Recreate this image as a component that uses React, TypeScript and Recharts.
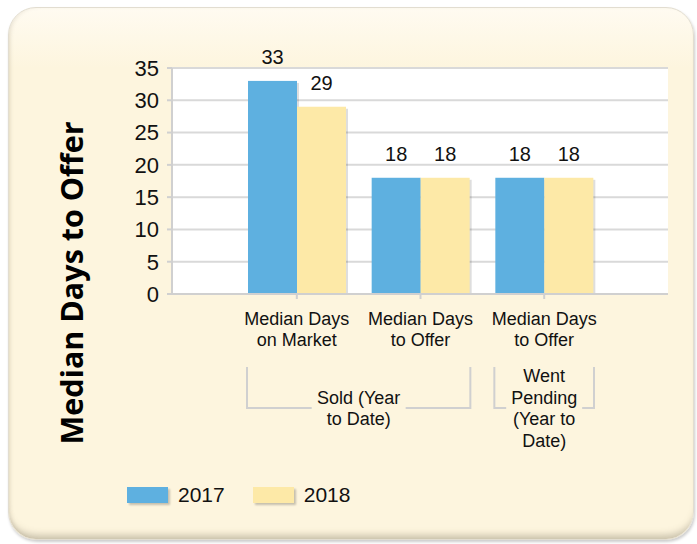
import React from "react";
import { BarChart, Bar, XAxis, YAxis, CartesianGrid, LabelList } from "recharts";

const categoryKeys = ["dom-sold", "dto-sold", "dto-pending"];
const categoryLines = [
  ["Median Days", "on Market"],
  ["Median Days", "to Offer"],
  ["Median Days", "to Offer"],
];
const values2017 = [33, 18, 18];
const values2018 = [29, 18, 18];
const seriesNames = ["2017", "2018"];
const yTicks = [0, 5, 10, 15, 20, 25, 30, 35];
const groupLabels = [
  { lines: ["Sold (Year", "to Date)"], from: 0, to: 1 },
  { lines: ["Went", "Pending", "(Year to", "Date)"], from: 2, to: 2 },
];
const yAxisTitle = "Median Days to Offer";

// styling
const COLORS = ["#5eb0e0", "#fde9a7"];
const FONT = "'Liberation Sans', Arial, sans-serif";
const GRID = "#d9d9d9";
const AXIS = "#d0d0d0";
const BAR_GAP_PX = 13;
const GROUP_GAP_HALF = [47, 38];

const data = categoryKeys.map((k, i) => ({
  key: k,
  idx: i,
  v2017: values2017[i],
  v2018: values2018[i],
}));

const ShadowBar = (props: any) => {
  const { x, y, width, height, fill } = props;
  if (!height || height <= 0) return null;
  return (
    <g>
      <rect x={x + 2} y={y + 2} width={width} height={Math.max(0, height - 2)} fill="rgba(0,0,0,0.13)" />
      <rect x={x} y={y} width={width} height={height} fill={fill} />
    </g>
  );
};

const CategoryTick = (props: any) => {
  const { x, y, payload } = props;
  const i = payload.index;
  const half = payload.offset || 0;
  const lines = categoryLines[i] || [];
  const elems: any[] = [];
  lines.forEach((ln, j) => {
    elems.push(
      <text key={"c" + j} x={x} y={y + 26 + j * 21} textAnchor="middle" fontSize={18} fontFamily={FONT} fill="#111">
        {ln}
      </text>
    );
  });
  groupLabels.forEach((g, gi) => {
    if (g.from !== i) return;
    const left = x - half + BAR_GAP_PX - 1;
    const right = x + (g.to - g.from) * 2 * half + half - BAR_GAP_PX + 1;
    const cx = (left + right) / 2;
    const lineY = y + 109;
    const topY = y + 68;
    const gapHalf = GROUP_GAP_HALF[gi];
    const n = g.lines.length;
    elems.push(
      <path
        key={"b" + gi}
        d={`M${left},${topY} L${left},${lineY} L${cx - gapHalf},${lineY} M${cx + gapHalf},${lineY} L${right},${lineY} L${right},${topY}`}
        stroke={AXIS}
        strokeWidth={2}
        fill="none"
      />
    );
    g.lines.forEach((ln, j) => {
      elems.push(
        <text
          key={"g" + gi + "-" + j}
          x={cx}
          y={lineY + 6.5 + (j - (n - 1) / 2) * 21.5}
          textAnchor="middle"
          fontSize={18}
          fontFamily={FONT}
          fill="#111"
        >
          {ln}
        </text>
      );
    });
  });
  return <g>{elems}</g>;
};

export default function App() {
  return (
    <div style={{ position: "absolute", left: 0, top: 0, width: 697, height: 544, background: "#ffffff", overflow: "hidden" }}>
      <div
        style={{
          position: "absolute",
          left: 8,
          top: 7,
          width: 686,
          height: 533,
          borderRadius: 28,
          background: "linear-gradient(to bottom, #fffbf1 0px, #fdf5de 60px, #fdf5de 100%)",
          border: "1px solid #e2ddd0",
          boxSizing: "border-box",
          boxShadow: "inset 0 -9px 7px -5px rgba(110,100,80,0.35), inset 3px 0 4px -2px rgba(120,110,90,0.18), 1px 2px 3px rgba(0,0,0,0.2)",
        }}
      />
      <div style={{ position: "absolute", left: 0, top: 0 }}>
        <BarChart
          width={697}
          height={544}
          data={data}
          margin={{ top: 68, right: 29, bottom: 0, left: 0 }}
          barCategoryGap={BAR_GAP_PX}
          barGap={0}
        >
          <CartesianGrid vertical={false} stroke={GRID} strokeWidth={2} fill="#ffffff" />
          <XAxis
            dataKey="key"
            type="category"
            height={250}
            padding={{ left: 63, right: 62 }}
            axisLine={{ stroke: AXIS, strokeWidth: 2 }}
            tickLine={{ stroke: AXIS, strokeWidth: 2 }}
            tickSize={5}
            tickMargin={0}
            interval={0}
            tick={<CategoryTick />}
          />
          <YAxis
            type="number"
            domain={[0, 35]}
            ticks={yTicks}
            interval={0}
            width={172}
            axisLine={{ stroke: AXIS, strokeWidth: 2 }}
            tickLine={{ stroke: AXIS, strokeWidth: 2 }}
            tickSize={5}
            tickMargin={8}
            tick={{ fontSize: 22, fontFamily: FONT, fill: "#111" }}
          />
          <Bar dataKey="v2017" name={seriesNames[0]} fill={COLORS[0]} shape={<ShadowBar />} isAnimationActive={false}>
            <LabelList dataKey="v2017" position="top" offset={17} style={{ fontSize: 20, fontFamily: FONT, fill: "#111" }} />
          </Bar>
          <Bar dataKey="v2018" name={seriesNames[1]} fill={COLORS[1]} shape={<ShadowBar />} isAnimationActive={false}>
            <LabelList dataKey="v2018" position="top" offset={17} style={{ fontSize: 20, fontFamily: FONT, fill: "#111" }} />
          </Bar>
        </BarChart>
      </div>
      <svg style={{ position: "absolute", left: 0, top: 0 }} width={697} height={544}>
        <text
          x={0}
          y={0}
          transform="translate(83,283) rotate(-90)"
          textAnchor="middle"
          fontSize={30.5}
          fontWeight={700}
          fontFamily="'Open Sans', sans-serif"
          fill="#000"
        >
          {yAxisTitle}
        </text>
      </svg>
      <div style={{ position: "absolute", left: 127, top: 482, display: "flex", alignItems: "center", fontFamily: FONT, fontSize: 21, color: "#111" }}>
        {seriesNames.map((s, i) => (
          <div key={s} style={{ display: "flex", alignItems: "center", marginRight: 28 }}>
            <div style={{ width: 41, height: 16, background: COLORS[i], boxShadow: "2px 2px 2px rgba(0,0,0,0.22)" }} />
            <span style={{ marginLeft: 10, lineHeight: "26px" }}>{s}</span>
          </div>
        ))}
      </div>
    </div>
  );
}
